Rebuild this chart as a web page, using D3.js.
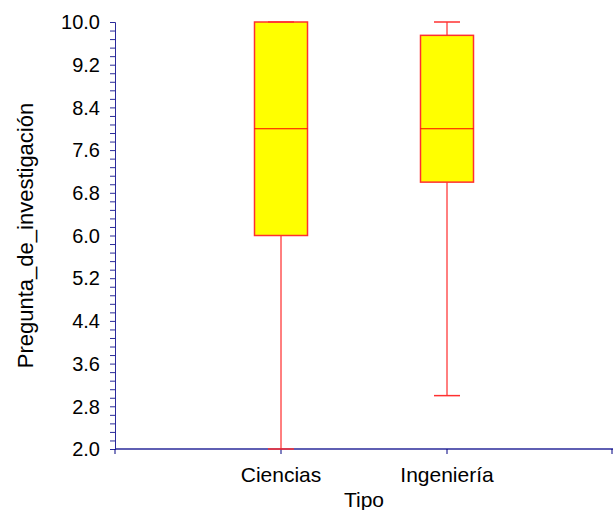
<!DOCTYPE html>
<html>
<head>
<meta charset="utf-8">
<script src="https://cdn.jsdelivr.net/npm/d3@7"></script>
<style>
  body { margin: 0; background: #fff; }
  text { font-family: "Liberation Sans", Arial, sans-serif; fill: #000; }
</style>
</head>
<body>
<div id="chart"></div>
<script>
// box plot stats
const categories = ['Ciencias', 'Ingeniería']
const minVals = [2.0, 3.0]
const q1Vals = [6.0, 7.0]
const medianVals = [8.0, 8.0]
const q3Vals = [10.0, 9.75]
const maxVals = [10.0, 10.0]
const yTicks = [2.0, 2.8, 3.6, 4.4, 5.2, 6.0, 6.8, 7.6, 8.4, 9.2, 10.0]

const width = 613, height = 510
const margin = {top: 22, right: 0, bottom: 61, left: 115}

const svg = d3.select('#chart').append('svg')
  .attr('width', width)
  .attr('height', height)

const x = d3.scalePoint()
  .domain(categories)
  .range([margin.left, width - margin.right])
  .padding(1)

const y = d3.scaleLinear()
  .domain([2, 10])
  .range([height - margin.bottom, margin.top])

const axisColor = '#2a2a9a'
const boxW = 53, capW = 26

// minor ticks every 0.16
const minor = d3.range(0, 51).map(i => 2 + i * 0.16)

const yAxis = svg.append('g')
  .attr('transform', 'translate(' + margin.left + ',0)')
  .call(d3.axisLeft(y).tickValues(minor).tickSize(5).tickFormat(''))
yAxis.selectAll('line').attr('stroke', axisColor)
yAxis.select('.domain').attr('stroke', axisColor)

svg.append('g').selectAll('text')
  .data(yTicks)
  .enter()
  .append('text')
  .attr('x', margin.left - 15)
  .attr('y', d => y(d))
  .attr('dy', '0.36em')
  .attr('text-anchor', 'end')
  .style('font-size', '20px')
  .text(d => d.toFixed(1))

// x axis with ticks at ends and categories
const xTickPos = [margin.left].concat(categories.map(c => x(c)), [width - 1])
const xAxis = svg.append('g')
xAxis.append('line')
  .attr('x1', margin.left).attr('x2', width)
  .attr('y1', y(2)).attr('y2', y(2))
  .attr('stroke', axisColor).attr('stroke-width', 1.5)
xAxis.selectAll('.xt')
  .data(xTickPos)
  .enter()
  .append('line')
  .attr('x1', d => d).attr('x2', d => d)
  .attr('y1', y(2)).attr('y2', y(2) + 5)
  .attr('stroke', '#000080')

svg.selectAll('.xlab')
  .data(categories)
  .enter()
  .append('text')
  .attr('x', d => x(d))
  .attr('y', 482)
  .attr('text-anchor', 'middle')
  .style('font-size', '21px')
  .text(d => d)

svg.append('text')
  .attr('x', (margin.left + width) / 2)
  .attr('y', 507)
  .attr('text-anchor', 'middle')
  .style('font-size', '21px')
  .text('Tipo')

svg.append('text')
  .attr('transform', 'translate(33,' + (y(6)) + ') rotate(-90)')
  .attr('text-anchor', 'middle')
  .style('font-size', '22px')
  .text('Pregunta_de_investigación')

const boxes = categories.map((c, i) => ({
  cat: c, min: minVals[i], q1: q1Vals[i], med: medianVals[i], q3: q3Vals[i], max: maxVals[i]
}))

const g = svg.selectAll('.box')
  .data(boxes)
  .enter()
  .append('g')

// whiskers
g.append('line')
  .attr('x1', d => x(d.cat)).attr('x2', d => x(d.cat))
  .attr('y1', d => y(d.q3)).attr('y2', d => y(d.max))
  .attr('stroke', '#ff0000')
g.append('line')
  .attr('x1', d => x(d.cat)).attr('x2', d => x(d.cat))
  .attr('y1', d => y(d.q1)).attr('y2', d => y(d.min))
  .attr('stroke', '#ff0000')

g.append('rect')
  .attr('x', d => x(d.cat) - boxW / 2)
  .attr('y', d => y(d.q3))
  .attr('width', boxW)
  .attr('height', d => y(d.q1) - y(d.q3))
  .attr('fill', '#ffff00')
  .attr('stroke', '#ff3030')
  .attr('stroke-width', 1.5)

g.append('line')
  .attr('x1', d => x(d.cat) - boxW / 2).attr('x2', d => x(d.cat) + boxW / 2)
  .attr('y1', d => y(d.med)).attr('y2', d => y(d.med))
  .attr('stroke', '#ff0000')

// caps
g.append('line')
  .attr('x1', d => x(d.cat) - capW / 2).attr('x2', d => x(d.cat) + capW / 2)
  .attr('y1', d => y(d.max)).attr('y2', d => y(d.max))
  .attr('stroke', '#ff3030').attr('stroke-width', 1.5)
g.append('line')
  .attr('x1', d => x(d.cat) - capW / 2).attr('x2', d => x(d.cat) + capW / 2)
  .attr('y1', d => y(d.min)).attr('y2', d => y(d.min))
  .attr('stroke', '#ff3030').attr('stroke-width', 1.5)
</script>
</body>
</html>
